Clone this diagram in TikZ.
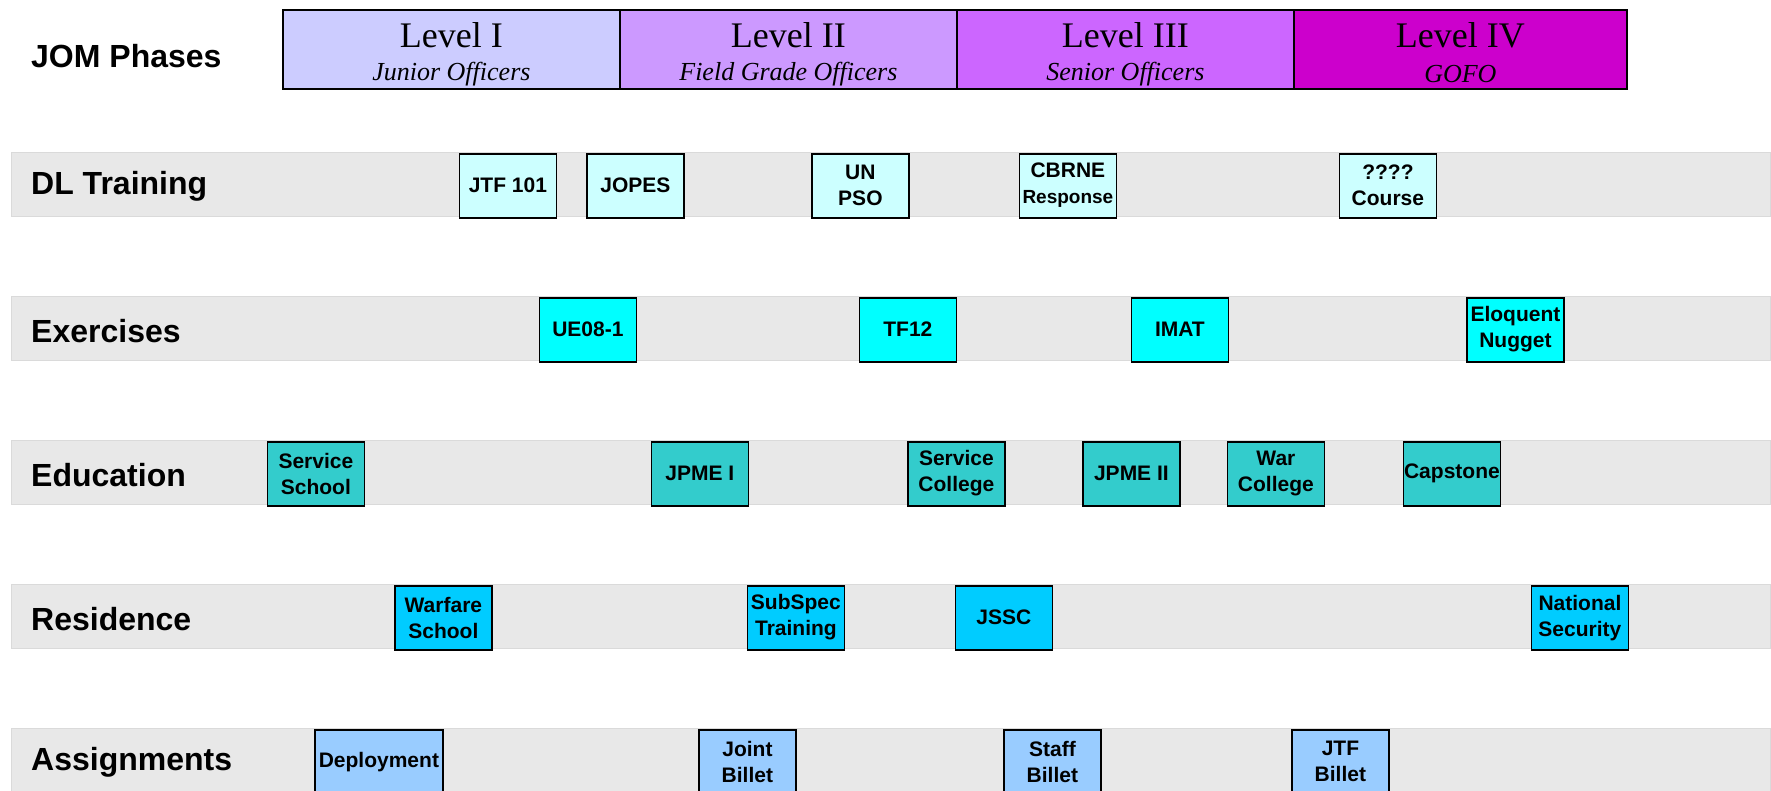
\documentclass[tikz,border=0pt]{standalone}
\usepackage{fontspec}
\setmainfont{Liberation Serif}
\setsansfont{Liberation Sans}
\definecolor{lvA}{HTML}{CCCCFF}
\definecolor{lvB}{HTML}{CC99FF}
\definecolor{lvC}{HTML}{CC66FF}
\definecolor{lvD}{HTML}{CC00CC}
\definecolor{barfill}{HTML}{E8E8E8}
\definecolor{barline}{HTML}{DADADA}
\definecolor{dlc}{HTML}{CCFFFF}
\definecolor{exc}{HTML}{00FFFF}
\definecolor{edc}{HTML}{33CCCC}
\definecolor{rsc}{HTML}{00CCFF}
\definecolor{asc}{HTML}{99CCFF}
\tikzset{
  level/.style={draw=black, line width=1.8pt, minimum width=337pt, minimum height=79pt, anchor=north west, inner sep=0pt},
  bar/.style={fill=barfill, draw=barline, line width=1pt},
  rowlabel/.style={anchor=west, font=\sffamily\bfseries\fontsize{32}{36}\selectfont, inner sep=0pt},
  item/.style={draw=black, line width=1.8pt, minimum width=97pt, minimum height=64pt, anchor=north west, inner sep=0pt, align=center, font=\sffamily\bfseries\fontsize{21}{26}\selectfont},
}
\begin{document}
\begin{tikzpicture}[x=1pt,y=-1pt]
\useasboundingbox (0,0) rectangle (1771,790);
\fill[white] (0,0) rectangle (1771,790);
% JOM phases
\node[rowlabel] (jom) at (31,56) {JOM Phases};
\node[level, fill=lvA] (l1) at (282,9) {};
\node[level, fill=lvB] (l2) at (619,9) {};
\node[level, fill=lvC] (l3) at (956,9) {};
\node[level, fill=lvD, minimum width=333pt] (l4) at (1293,9) {};
\foreach \n/\a/\b in {l1/Level I/Junior Officers, l2/Level II/Field Grade Officers, l3/Level III/Senior Officers, l4/Level IV/GOFO}{
  \node[font=\fontsize{36}{40}\selectfont, inner sep=0pt] (\n t) at ([yshift=-26pt]\n.north) {\a};
  \node[font=\itshape\fontsize{26}{30}\selectfont, inner sep=0pt] (\n s) at ([yshift=-65pt]\n.north) {\b};
}
% bars
\foreach \y/\n/\t in {152.7/dl/DL Training, 296.7/ex/Exercises, 440.7/ed/Education, 584.7/rs/Residence, 728.7/as/Assignments}{
  \draw[bar] (11,\y) rectangle (1770,\y+64);
  \node[rowlabel] (\n) at (31,\y+34) {\t};
}
% DL training
\node[item, fill=dlc] (jtf) at (458.5,152.7) {JTF 101};
\node[item, fill=dlc] (jopes) at (586,152.7) {JOPES};
\node[item, fill=dlc] (unpso) at (811,152.7) {UN\\PSO};
\node[item, fill=dlc] (cbrne) at (1018.5,152.7) {CBRNE\\{\fontsize{19}{22}\selectfont Response}};
\node[item, fill=dlc] (qq) at (1338.5,152.7) {????\\Course};
% Exercises
\node[item, fill=exc] (ue) at (538.5,296.7) {UE08-1};
\node[item, fill=exc] (tf) at (858.5,296.7) {TF12};
\node[item, fill=exc] (imat) at (1130.5,296.7) {IMAT};
\node[item, fill=exc] (eloq) at (1466,296.7) {Eloquent\\Nugget};
% Education
\node[item, fill=edc] (ss) at (266.5,440.7) {Service\\School};
\node[item, fill=edc] (jp1) at (650.5,440.7) {JPME I};
\node[item, fill=edc] (sc) at (907,440.7) {Service\\College};
\node[item, fill=edc] (jp2) at (1082,440.7) {JPME II};
\node[item, fill=edc] (wc) at (1226.5,440.7) {War\\College};
\node[item, fill=edc] (cap) at (1402.5,440.7) {Capstone};
% Residence
\node[item, fill=rsc] (ws) at (394,584.7) {Warfare\\School};
\node[item, fill=rsc] (sub) at (746.5,584.7) {SubSpec\\Training};
\node[item, fill=rsc] (jssc) at (954.5,584.7) {JSSC};
\node[item, fill=rsc] (ns) at (1530.5,584.7) {National\\Security};
% Assignments
\node[item, fill=asc, minimum width=128pt] (dep) at (314,728.7) {Deployment};
\node[item, fill=asc] (jb) at (698,728.7) {Joint\\Billet};
\node[item, fill=asc] (sb) at (1003,728.7) {Staff\\Billet};
\node[item, fill=asc] (jtfb) at (1291,728.7) {JTF\\Billet};
\end{tikzpicture}
\end{document}
